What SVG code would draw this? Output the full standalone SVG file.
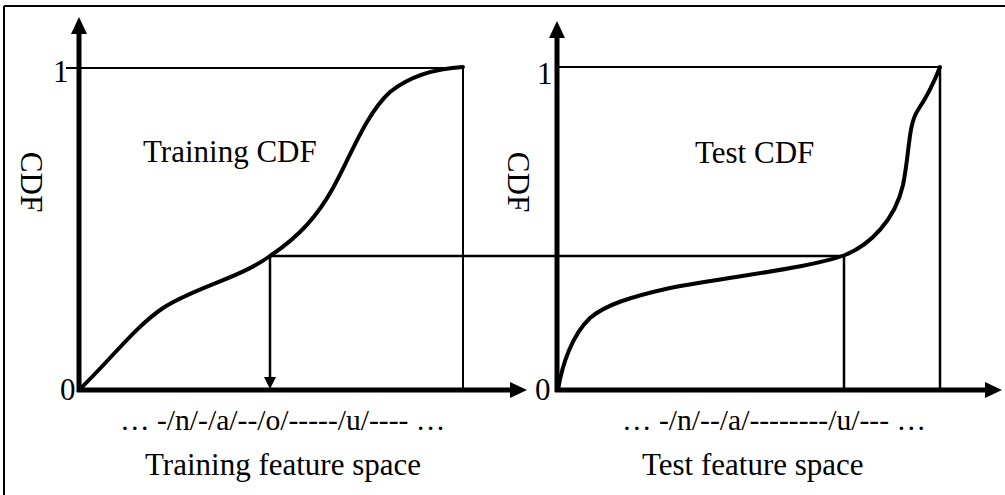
<svg xmlns="http://www.w3.org/2000/svg" width="1005" height="495" viewBox="0 0 1005 495">
<style>
.t{font-size:31px}
.l{font-size:29.6px}
.ax{stroke:#000;stroke-width:5;fill:none}
.cv{stroke:#000;stroke-width:4;fill:none;stroke-linecap:round}
.th{stroke:#000;stroke-width:2;fill:none}
.md{stroke:#000;stroke-width:2.5;fill:none}
</style>
<rect width="1005" height="495" fill="#fff"/>
<g id="frame">
<path d="M4,6 H1005 M4,6 V495" stroke="#000" stroke-width="2" fill="none"/>
</g>
<g font-family="'Liberation Serif', 'DejaVu Serif', serif" fill="#000">
<g id="training-plot">
<line class="ax" x1="79" y1="392" x2="79" y2="30"/>
<polygon points="79,17 71,34 87,34"/>
<line class="ax" x1="77" y1="390" x2="512" y2="390"/>
<polygon points="527,390 510,382 510,398"/>
<line class="th" x1="66" y1="68" x2="464" y2="68"/>
<line class="th" x1="463" y1="68" x2="463" y2="390"/>
<path class="cv" d="M80,389 C112,358 135,327 163,308 C193,288 240,278 270,256 C300,236 318,215 333,188 C350,158 365,115 390,92 C415,72 445,68 463,67"/>
<text class="t" x="53" y="82">1</text>
<text class="t" x="60" y="400">0</text>
<text class="t" transform="translate(21,182) rotate(90)" text-anchor="middle">CDF</text>
<text class="t" x="143" y="162">Training CDF</text>
<text class="l" x="120" y="430">… -/n/-/a/--/o/-----/u/---- …</text>
<text class="t" x="145" y="475">Training feature space</text>
</g>
<g id="test-plot">
<line class="ax" x1="557" y1="392" x2="557" y2="34"/>
<polygon points="557,21 549,38 565,38"/>
<line class="ax" x1="555" y1="390" x2="988" y2="390"/>
<polygon points="1002,390 985,382 985,398"/>
<line class="th" x1="557" y1="67" x2="941" y2="67"/>
<line class="md" x1="940" y1="67" x2="940" y2="390"/>
<path class="cv" d="M558,390 C562,365 572,335 590,318 C605,305 630,297 670,288 C740,275 810,268 845,255 C870,245 895,220 903,185 C910,150 908,125 918,110 C928,95 935,80 940,67"/>
<text class="t" x="537" y="84">1</text>
<text class="t" x="535" y="400">0</text>
<text class="t" transform="translate(508,182) rotate(90)" text-anchor="middle">CDF</text>
<text class="t" x="695" y="163">Test CDF</text>
<text class="l" x="622" y="430">… -/n/--/a/--------/u/--- …</text>
<text class="t" x="642" y="475">Test feature space</text>
</g>
</g>
<g id="connectors">
<line class="md" x1="270" y1="256" x2="845" y2="256"/>
<line class="md" x1="270" y1="256" x2="270" y2="378"/>
<polygon points="270,389 264,377 276,377"/>
<line class="md" x1="844" y1="256" x2="844" y2="390"/>
</g>
</svg>
